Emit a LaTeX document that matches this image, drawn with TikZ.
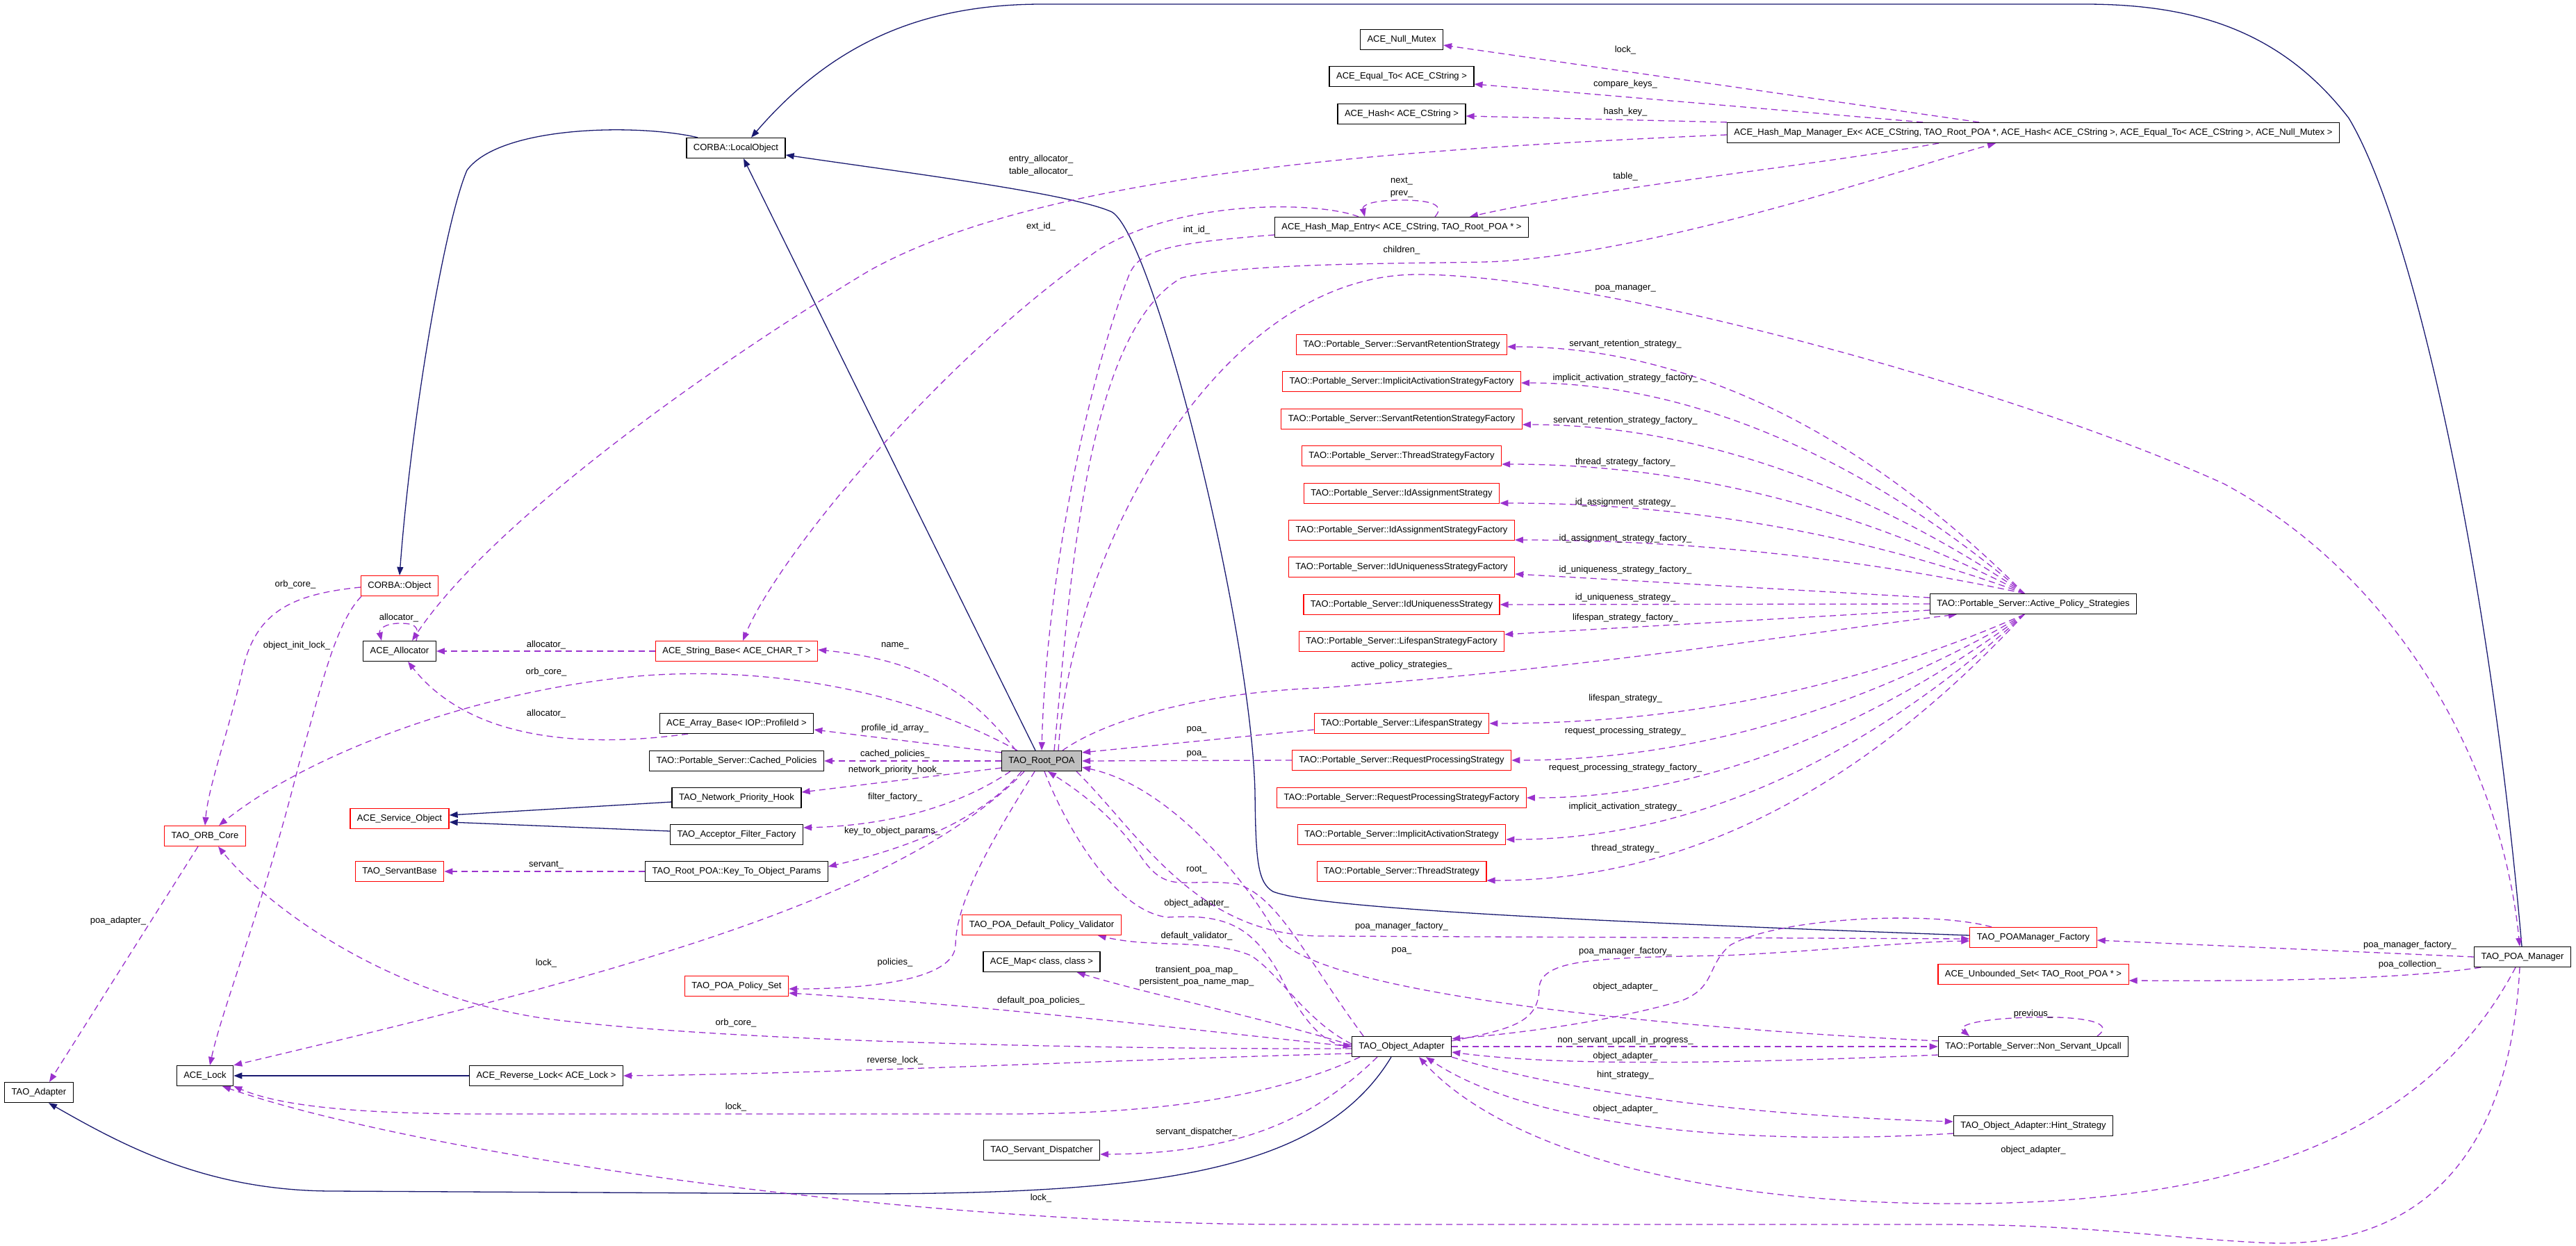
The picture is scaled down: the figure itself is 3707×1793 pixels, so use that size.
\documentclass[tikz,border=0pt]{standalone}
\usepackage{fontspec}
\setmainfont{Liberation Sans}
\usetikzlibrary{arrows.meta}
\definecolor{edgep}{HTML}{9A32CD}
\definecolor{navyb}{HTML}{191970}
\definecolor{poagray}{HTML}{BFBFBF}
\pgfdeclarelayer{edges}
\pgfsetlayers{edges,main}
\tikzset{
 cls/.style={draw=black, line width=1.2pt, fill=white, minimum height=29pt, inner xsep=10pt, inner ysep=0pt, font=\fontsize{13}{15}\selectfont},
 rcls/.style={cls, draw=red},
 lbl/.style={inner sep=0pt, font=\fontsize{13}{15}\selectfont},
 inh/.style={draw=navyb, line width=1.3pt, -{Triangle[length=12pt,width=9pt]}},
 use/.style={draw=edgep, line width=1.3pt, dash pattern=on 9pt off 6pt, -{Triangle[length=12pt,width=9pt]}},
}
\begin{document}
\begin{tikzpicture}[x=1pt,y=-1pt]
\useasboundingbox (0,0) rectangle (3707,1793);
% ---------------- nodes
\node[cls] (lobj) at (1059,213) {CORBA::LocalObject};
\node[cls] (nullmx) at (2017,57) {ACE\_Null\_Mutex};
\node[cls] (eqto) at (2017,110) {ACE\_Equal\_To< ACE\_CString >};
\node[cls] (hashc) at (2017,164) {ACE\_Hash< ACE\_CString >};
\node[cls] (hmm) at (2926,191) {ACE\_Hash\_Map\_Manager\_Ex< ACE\_CString, TAO\_Root\_POA *, ACE\_Hash< ACE\_CString >, ACE\_Equal\_To< ACE\_CString >, ACE\_Null\_Mutex >};
\node[cls] (hme) at (2017,327) {ACE\_Hash\_Map\_Entry< ACE\_CString, TAO\_Root\_POA * >};
\node[rcls] (srs) at (2017,496) {TAO::Portable\_Server::ServantRetentionStrategy};
\node[rcls] (iasf) at (2017,549) {TAO::Portable\_Server::ImplicitActivationStrategyFactory};
\node[rcls] (srsf) at (2017,603) {TAO::Portable\_Server::ServantRetentionStrategyFactory};
\node[rcls] (tsf) at (2017,656) {TAO::Portable\_Server::ThreadStrategyFactory};
\node[rcls] (idas) at (2017,710) {TAO::Portable\_Server::IdAssignmentStrategy};
\node[rcls] (idasf) at (2017,763) {TAO::Portable\_Server::IdAssignmentStrategyFactory};
\node[rcls] (idusf) at (2017,816) {TAO::Portable\_Server::IdUniquenessStrategyFactory};
\node[rcls] (idus) at (2017,870) {TAO::Portable\_Server::IdUniquenessStrategy};
\node[rcls] (lsf) at (2017,923) {TAO::Portable\_Server::LifespanStrategyFactory};
\node[rcls] (ls) at (2017,1041) {TAO::Portable\_Server::LifespanStrategy};
\node[rcls] (rps) at (2017,1094) {TAO::Portable\_Server::RequestProcessingStrategy};
\node[rcls] (rpsf) at (2017,1148) {TAO::Portable\_Server::RequestProcessingStrategyFactory};
\node[rcls] (iact) at (2017,1201) {TAO::Portable\_Server::ImplicitActivationStrategy};
\node[rcls] (tstr) at (2017,1254) {TAO::Portable\_Server::ThreadStrategy};
\node[cls] (aps) at (2926,869) {TAO::Portable\_Server::Active\_Policy\_Strategies};
\node[rcls] (cobj) at (575,843) {CORBA::Object};
\node[cls] (alloc) at (575,937) {ACE\_Allocator};
\node[rcls] (svc) at (575,1178) {ACE\_Service\_Object};
\node[rcls] (orb) at (295,1203) {TAO\_ORB\_Core};
\node[rcls] (sbase) at (575,1254) {TAO\_ServantBase};
\node[cls] (alock) at (295,1548) {ACE\_Lock};
\node[cls] (adapter) at (56,1572) {TAO\_Adapter};
\node[cls] (rlock) at (786,1548) {ACE\_Reverse\_Lock< ACE\_Lock >};
\node[rcls] (strb) at (1060,937) {ACE\_String\_Base< ACE\_CHAR\_T >};
\node[cls] (arrb) at (1060,1041) {ACE\_Array\_Base< IOP::ProfileId >};
\node[cls] (cpol) at (1060,1095) {TAO::Portable\_Server::Cached\_Policies};
\node[cls] (nph) at (1060,1148) {TAO\_Network\_Priority\_Hook};
\node[cls] (aff) at (1060,1201) {TAO\_Acceptor\_Filter\_Factory};
\node[cls] (k2o) at (1060,1254) {TAO\_Root\_POA::Key\_To\_Object\_Params};
\node[rcls] (pset) at (1060,1419) {TAO\_POA\_Policy\_Set};
\node[cls, fill=poagray] (root) at (1499,1095) {TAO\_Root\_POA};
\node[rcls] (valid) at (1499,1331) {TAO\_POA\_Default\_Policy\_Validator};
\node[cls] (amap) at (1499,1384) {ACE\_Map< class, class >};
\node[cls] (disp) at (1499,1655) {TAO\_Servant\_Dispatcher};
\node[cls] (oa) at (2017,1506) {TAO\_Object\_Adapter};
\node[rcls] (pmf) at (2926,1349) {TAO\_POAManager\_Factory};
\node[rcls] (uset) at (2926,1402) {ACE\_Unbounded\_Set< TAO\_Root\_POA * >};
\node[cls] (nsu) at (2926,1506) {TAO::Portable\_Server::Non\_Servant\_Upcall};
\node[cls] (hint) at (2926,1620) {TAO\_Object\_Adapter::Hint\_Strategy};
\node[cls] (pmgr) at (3630,1377) {TAO\_POA\_Manager};
% ---------------- edges
\begin{pgfonlayer}{edges}
% inheritance
\draw[inh] ([xshift=-55pt]lobj.north) .. controls (920,178) and (720,180) .. (672,245) .. controls (640,320) and (592,600) .. (cobj.north);
\draw[inh] ([xshift=-9pt]root.north) -- ([xshift=11pt]lobj.south);
\draw[inh] ([yshift=3pt]pmf.west) .. controls (2400,1330) and (1900,1310) .. (1832,1283) .. controls (1810,1270) and (1807,1240) .. (1806,1140) .. controls (1800,900) and (1660,340) .. (1600,305) .. controls (1540,278) and (1300,248) .. ([yshift=-10pt]lobj.east);
\draw[inh] ([xshift=-1pt]pmgr.north) .. controls (3580,800) and (3470,320) .. (3380,170) .. controls (3280,40) and (3150,6) .. (3000,6) -- (1500,6) .. controls (1330,6) and (1200,60) .. ([xshift=22pt]lobj.north);
\draw[inh] ([yshift=-6pt]nph.west) -- ([yshift=5pt]svc.east);
\draw[inh] ([yshift=5pt]aff.west) -- ([yshift=-5pt]svc.east);
\draw[inh] (rlock.west) -- (alock.east);
\draw[inh] ([xshift=-15pt]oa.south) .. controls (1900,1690) and (1650,1718) .. (1227,1718) -- (480,1714) .. controls (300,1714) and (180,1650) .. ([xshift=14pt]adapter.south);
% hash map
\draw[use] ([xshift=-78pt]hmm.north) -- ([yshift=-8pt]nullmx.east);
\draw[use] ([xshift=-159pt]hmm.north) -- ([yshift=-11pt]eqto.east);
\draw[use] (hmm.north west) -- ([yshift=-3pt]hashc.east);
\draw[use] ([yshift=-3pt]hmm.west) .. controls (2000,215) and (1500,250) .. (1250,390) .. controls (1000,540) and (700,760) .. ([xshift=18pt]alloc.north);
\draw[use] ([xshift=-136pt]hmm.south) .. controls (2600,240) and (2300,270) .. ([xshift=98pt]hme.north);
\draw[use] ([xshift=48pt]hme.north) .. controls (2080,295) and (2060,288) .. (2017,288) .. controls (1975,288) and (1960,295) .. ([xshift=-53pt]hme.north);
\draw[use] ([xshift=-62pt]hme.north) .. controls (1900,290) and (1700,285) .. (1580,360) .. controls (1350,520) and (1120,800) .. ([xshift=9pt]strb.north);
\draw[use] ([yshift=-11pt]hme.west) .. controls (1680,350) and (1640,360) .. (1625,395) .. controls (1560,560) and (1505,850) .. (root.north);
% allocator
\draw[use] (strb.west) -- (alloc.east);
\draw[use] ([xshift=-70pt]arrb.south) .. controls (850,1075) and (680,1070) .. ([xshift=12pt]alloc.south);
\draw[use] ([xshift=24pt]alloc.north) .. controls (605,900) and (595,897) .. (575,897) .. controls (555,897) and (545,905) .. ([xshift=-26pt]alloc.north);
% CORBA::Object, ORB core
\draw[use] ([yshift=-2pt]cobj.west) .. controls (420,855) and (370,880) .. (350,960) .. controls (330,1050) and (300,1130) .. (orb.north);
\draw[use] ([xshift=-55pt]cobj.south) .. controls (480,900) and (460,1000) .. (430,1100) .. controls (380,1300) and (320,1450) .. ([xshift=7pt]alock.north);
\draw[use] ([xshift=-10pt]orb.south) -- ([xshift=15pt]adapter.north);
\draw[use] (k2o.west) -- (sbase.east);
% Root POA
\draw[use] ([xshift=-37pt]root.north) .. controls (1400,1000) and (1330,950) .. ([yshift=2pt]strb.east);
\draw[use] ([yshift=-3pt]root.north west) -- ([yshift=-9pt]arrb.east);
\draw[use] (root.west) -- (cpol.east);
\draw[use] ([yshift=-10pt]root.west) -- ([yshift=8pt]nph.east);
\draw[use] ([xshift=13pt]root.south west) .. controls (1380,1160) and (1280,1188) .. ([yshift=10pt]aff.east);
\draw[use] ([xshift=-29pt]root.south) .. controls (1420,1170) and (1330,1215) .. ([yshift=7pt]k2o.east);
\draw[use] ([xshift=-10pt]root.south) .. controls (1420,1220) and (1376,1300) .. (1375,1360) .. controls (1374,1410) and (1250,1423) .. ([yshift=-4pt]pset.east);
\draw[use] ([xshift=-25pt]root.south) .. controls (1300,1290) and (900,1400) .. (alock.north east);
\draw[use] ([xshift=-35pt]root.north) .. controls (1300,990) and (1100,960) .. (930,972) .. controls (700,990) and (450,1080) .. ([xshift=20pt]orb.north);
\draw[use] ([xshift=18pt]root.north) .. controls (1540,850) and (1560,480) .. (1700,400) .. controls (1800,375) and (2100,380) .. (2160,376) .. controls (2400,360) and (2750,240) .. ([xshift=-54pt]hmm.south);
\draw[use] ([xshift=24pt]root.north) .. controls (1540,800) and (1750,395) .. (2040,395) .. controls (2300,395) and (2900,560) .. (3200,696) .. controls (3450,830) and (3600,1100) .. ([xshift=-4pt]pmgr.north);
\draw[use] ([xshift=30pt]root.north) .. controls (1600,1030) and (1750,995) .. (1900,990) .. controls (2300,960) and (2600,910) .. ([xshift=-110pt]aps.south);
\draw[use] ([yshift=-9pt]ls.west) -- ([yshift=-3pt]root.north east);
\draw[use] (rps.west) -- (root.east);
\draw[use] ([yshift=-7pt]nsu.north west) .. controls (2400,1480) and (1900,1430) .. (1840,1350) .. controls (1790,1260) and (1680,1130) .. ([yshift=6pt]root.south east);
\draw[use] ([xshift=-8pt]root.south east) .. controls (1640,1200) and (1720,1345) .. (1900,1347) -- ([yshift=-2pt]pmf.west);
\draw[use] ([xshift=4pt]root.south) .. controls (1530,1180) and (1600,1310) .. (1680,1320) .. controls (1760,1315) and (1800,1330) .. (1840,1400) .. controls (1870,1460) and (1900,1500) .. (oa.west);
\draw[use] ([xshift=-55pt]oa.north) .. controls (1880,1380) and (1840,1290) .. (1780,1272) .. controls (1700,1262) and (1680,1290) .. (1640,1230) .. controls (1600,1170) and (1540,1130) .. ([xshift=9pt]root.south);
% Object adapter
\draw[use] ([yshift=4pt]oa.west) .. controls (1880,1470) and (1840,1400) .. (1800,1375) .. controls (1740,1350) and (1660,1365) .. ([xshift=-34pt]valid.south east);
\draw[use] ([yshift=2pt]oa.west) .. controls (1800,1460) and (1650,1430) .. ([xshift=-34pt]amap.south east);
\draw[use] (oa.west) .. controls (1700,1480) and (1400,1445) .. ([yshift=-10pt]pset.east);
\draw[use] ([yshift=-3pt]oa.west) .. controls (1500,1510) and (1000,1495) .. (780,1465) .. controls (550,1430) and (380,1300) .. ([xshift=19pt]orb.south);
\draw[use] ([yshift=-10pt]oa.west) .. controls (1600,1525) and (1200,1545) .. (rlock.east);
\draw[use] ([xshift=-60pt]oa.south) .. controls (1850,1570) and (1700,1603) .. (1450,1603) -- (700,1603) .. controls (500,1603) and (400,1590) .. (alock.south east);
\draw[use] ([xshift=-35pt]oa.south) .. controls (1900,1600) and (1800,1660) .. ([yshift=-6pt]disp.east);
\draw[use] ([yshift=-7pt]oa.north east) .. controls (2180,1480) and (2215,1470) .. (2215,1420) .. controls (2220,1380) and (2300,1378) .. (2480,1375) .. controls (2600,1370) and (2750,1355) .. ([yshift=-5pt]pmf.west);
\draw[use] ([xshift=-60pt]pmf.north) .. controls (2780,1310) and (2560,1320) .. (2490,1360) .. controls (2455,1390) and (2470,1420) .. (2420,1440) .. controls (2300,1475) and (2150,1490) .. ([yshift=-4pt]oa.north east);
\draw[use] (oa.east) -- (nsu.west);
\draw[use] ([yshift=-12pt]nsu.west) .. controls (2500,1530) and (2250,1535) .. ([yshift=-8pt]oa.east);
\draw[use] (oa.south east) .. controls (2250,1570) and (2500,1605) .. ([yshift=6pt]hint.west);
\draw[use] ([yshift=-11pt]hint.west) .. controls (2500,1650) and (2200,1620) .. ([xshift=35pt]oa.south);
\draw[use] ([xshift=-10pt]pmgr.south) .. controls (3500,1620) and (3250,1735) .. (2800,1732) .. controls (2400,1730) and (2150,1640) .. ([xshift=25pt]oa.south);
\draw[use] ([xshift=-4pt]pmgr.south) .. controls (3610,1700) and (3450,1800) .. (3250,1788) .. controls (3100,1780) and (3000,1762) .. (2790,1762) -- (1860,1762) .. controls (1300,1762) and (600,1660) .. ([xshift=25pt]alock.south);
\draw[use] (pmgr.west) -- ([yshift=-4pt]pmf.east);
\draw[use] ([xshift=-60pt]pmgr.south) .. controls (3450,1410) and (3250,1412) .. ([yshift=-9pt]uset.east);
\draw[use] ([xshift=92pt]nsu.north) .. controls (3050,1468) and (2980,1462) .. (2920,1464) .. controls (2850,1466) and (2815,1475) .. ([xshift=-92pt]nsu.north);
% Active policy strategies fan
\draw[use] ([xshift=-13pt]aps.north) .. controls (2700,641) and (2450,499) .. ([yshift=-3pt]srs.east);
\draw[use] ([xshift=-13pt]aps.north) .. controls (2700,673) and (2450,551) .. ([yshift=-2pt]iasf.east);
\draw[use] ([xshift=-13pt]aps.north) .. controls (2700,709) and (2450,611) .. ([yshift=-8pt]srsf.east);
\draw[use] ([xshift=-13pt]aps.north) .. controls (2700,743) and (2450,668) .. ([yshift=-12pt]tsf.east);
\draw[use] ([xshift=-13pt]aps.north) .. controls (2700,776) and (2450,724) .. ([yshift=-14pt]idas.east);
\draw[use] ([xshift=-13pt]aps.north) .. controls (2700,808) and (2450,777) .. ([yshift=-14pt]idasf.east);
\draw[use] ([yshift=9pt]aps.west) -- ([yshift=-10pt]idusf.east);
\draw[use] (aps.west) -- (idus.east);
\draw[use] ([yshift=-9pt]aps.west) -- ([yshift=10pt]lsf.east);
\draw[use] ([xshift=-13pt]aps.south) .. controls (2700,978) and (2450,1041) .. (ls.east);
\draw[use] ([xshift=-13pt]aps.south) .. controls (2700,1010) and (2450,1094) .. (rps.east);
\draw[use] ([xshift=-13pt]aps.south) .. controls (2700,1043) and (2450,1149) .. (rpsf.east);
\draw[use] ([xshift=-13pt]aps.south) .. controls (2700,1078) and (2450,1208) .. ([yshift=-7pt]iact.east);
\draw[use] ([xshift=-13pt]aps.south) .. controls (2700,1113) and (2450,1267) .. ([yshift=-13pt]tstr.east);
\end{pgfonlayer}
% ---------------- labels
\node[lbl] at (2339,72) {lock\_};
\node[lbl] at (2339,121) {compare\_keys\_};
\node[lbl] at (2339,161) {hash\_key\_};
\node[lbl] at (1498,229) {entry\_allocator\_};
\node[lbl] at (1498,247) {table\_allocator\_};
\node[lbl] at (1498,326) {ext\_id\_};
\node[lbl] at (1722,331) {int\_id\_};
\node[lbl] at (2017,261) {next\_};
\node[lbl] at (2017,279) {prev\_};
\node[lbl] at (2339,254) {table\_};
\node[lbl] at (2017,360) {children\_};
\node[lbl] at (2339,415) {poa\_manager\_};
\node[lbl] at (2339,495) {servant\_retention\_strategy\_};
\node[lbl] at (2339,544) {implicit\_activation\_strategy\_factory\_};
\node[lbl] at (2339,605) {servant\_retention\_strategy\_factory\_};
\node[lbl] at (2339,665) {thread\_strategy\_factory\_};
\node[lbl] at (2339,723) {id\_assignment\_strategy\_};
\node[lbl] at (2339,775) {id\_assignment\_strategy\_factory\_};
\node[lbl] at (2339,820) {id\_uniqueness\_strategy\_factory\_};
\node[lbl] at (2339,860) {id\_uniqueness\_strategy\_};
\node[lbl] at (2339,889) {lifespan\_strategy\_factory\_};
\node[lbl] at (2017,957) {active\_policy\_strategies\_};
\node[lbl] at (2339,1005) {lifespan\_strategy\_};
\node[lbl] at (2339,1052) {request\_processing\_strategy\_};
\node[lbl] at (2339,1105) {request\_processing\_strategy\_factory\_};
\node[lbl] at (2339,1161) {implicit\_activation\_strategy\_};
\node[lbl] at (2339,1221) {thread\_strategy\_};
\node[lbl] at (2017,1333) {poa\_manager\_factory\_};
\node[lbl] at (2017,1368) {poa\_};
\node[lbl] at (2339,1369) {poa\_manager\_factory\_};
\node[lbl] at (2339,1420) {object\_adapter\_};
\node[lbl] at (2339,1497) {non\_servant\_upcall\_in\_progress\_};
\node[lbl] at (2339,1520) {object\_adapter\_};
\node[lbl] at (2339,1547) {hint\_strategy\_};
\node[lbl] at (2339,1596) {object\_adapter\_};
\node[lbl] at (3468,1360) {poa\_manager\_factory\_};
\node[lbl] at (3468,1388) {poa\_collection\_};
\node[lbl] at (2926,1459) {previous\_};
\node[lbl] at (2926,1655) {object\_adapter\_};
\node[lbl] at (425,841) {orb\_core\_};
\node[lbl] at (574,889) {allocator\_};
\node[lbl] at (427,929) {object\_init\_lock\_};
\node[lbl] at (786,928) {allocator\_};
\node[lbl] at (786,967) {orb\_core\_};
\node[lbl] at (786,1027) {allocator\_};
\node[lbl] at (786,1245) {servant\_};
\node[lbl] at (170,1325) {poa\_adapter\_};
\node[lbl] at (786,1386) {lock\_};
\node[lbl] at (1288,929) {name\_};
\node[lbl] at (1288,1048) {profile\_id\_array\_};
\node[lbl] at (1288,1085) {cached\_policies\_};
\node[lbl] at (1288,1108) {network\_priority\_hook\_};
\node[lbl] at (1288,1147) {filter\_factory\_};
\node[lbl] at (1284,1196) {key\_to\_object\_params\_};
\node[lbl] at (1722,1050) {poa\_};
\node[lbl] at (1722,1085) {poa\_};
\node[lbl] at (1722,1252) {root\_};
\node[lbl] at (1722,1300) {object\_adapter\_};
\node[lbl] at (1722,1347) {default\_validator\_};
\node[lbl] at (1722,1396) {transient\_poa\_map\_};
\node[lbl] at (1722,1413) {persistent\_poa\_name\_map\_};
\node[lbl] at (1288,1385) {policies\_};
\node[lbl] at (1498,1440) {default\_poa\_policies\_};
\node[lbl] at (1059,1472) {orb\_core\_};
\node[lbl] at (1288,1526) {reverse\_lock\_};
\node[lbl] at (1059,1593) {lock\_};
\node[lbl] at (1722,1629) {servant\_dispatcher\_};
\node[lbl] at (1498,1724) {lock\_};
\end{tikzpicture}
\end{document}
